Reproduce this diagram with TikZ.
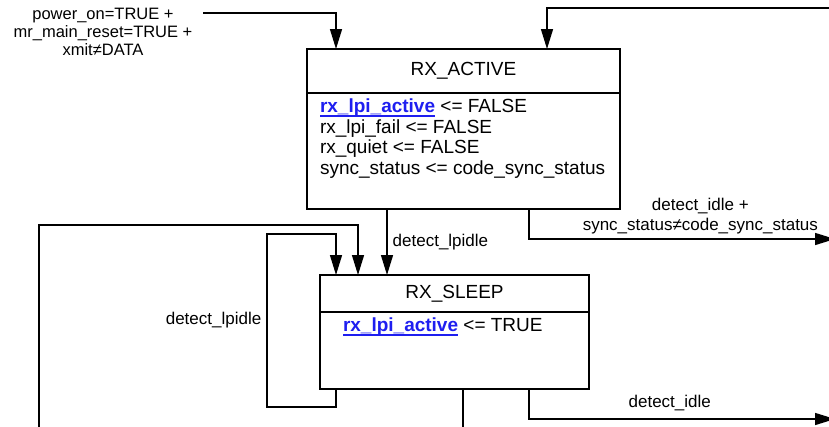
\documentclass[tikz,border=0pt]{standalone}
\usepackage{fontspec}
\setmainfont{Liberation Sans}
\usepackage{xcolor}
\usetikzlibrary{positioning,arrows.meta}

\definecolor{linkblue}{RGB}{30,30,240}
\newlength{\linkwd}
\newcommand{\lpilink}{\leavevmode{\color{linkblue}\bfseries
	\settowidth{\linkwd}{rx\_lpi\_active}%
	\rlap{\rule[-4.1pt]{\linkwd}{1.5pt}}rx\_lpi\_active}}

\begin{document}
\begin{tikzpicture}[x=1pt,y=-1pt,
		font=\fontsize{17}{20.5}\selectfont,
		wire/.style={draw,line width=1.4pt},
		trans/.style={wire,-{Triangle[length=20pt,width=12pt]}},
		hdr/.style={draw,line width=1.4pt,inner sep=0pt,outer sep=0pt,font=\fontsize{19}{20.5}\selectfont},
		bdy/.style={draw,line width=1.4pt,inner ysep=6pt,outer sep=0pt,font=\fontsize{19}{20.5}\selectfont}]
	\useasboundingbox (0,0) rectangle (829,426);

	% RX_ACTIVE
	\node[hdr,minimum width=313pt,minimum height=44pt] (acthead) at (463.5,71) {RX\_ACTIVE};
	\node[bdy,below=0pt of acthead,inner xsep=13pt] (actbody)
	{
		\begin{minipage}[c][104pt][t]{287pt}
			\raggedright
			\lpilink{} <= FALSE\\
			rx\_lpi\_fail <= FALSE\\
			rx\_quiet <= FALSE\\
			sync\_status <= code\_sync\_status
		\end{minipage}
	};

	% RX_SLEEP
	\node[hdr,minimum width=269pt,minimum height=37pt] (sleephead) at (454.5,293.5) {RX\_SLEEP};
	\node[bdy,below=0pt of sleephead,inner xsep=23pt] (sleepbody)
	{
		\begin{minipage}[c][65pt][t]{223pt}
			\raggedright
			\lpilink{} <= TRUE
		\end{minipage}
	};

	% entry condition
	\node[align=center,inner sep=0pt,font=\fontsize{16.5}{18}\selectfont] (pwrlabel) at (103,32)
	{power\_on=TRUE +\\mr\_main\_reset=TRUE +\\xmit≠DATA};
	\coordinate (pwr) at (203,13);
	\coordinate (toploop) at (829,8);
	\coordinate (exitA) at (835,239);
	\coordinate (exitS) at (835,419);
	\coordinate (outerin) at (39,430);
	\coordinate (sleepout) at (463,430);

	\draw[trans] (pwr) -| ([xshift=29pt]acthead.north west);
	\draw[trans] (toploop) -| ([xshift=240pt]acthead.north west);

	\draw[trans] ([xshift=80pt]actbody.south west) -- ([xshift=67pt]sleephead.north west)
		node[midway,right,inner sep=5pt] {detect\_lpidle};
	\draw[trans] ([xshift=222pt]actbody.south west) |- (exitA)
		node[pos=0.78,above,align=center,inner sep=4pt] {detect\_idle +\\sync\_status≠code\_sync\_status};

	\draw[trans] ([xshift=16pt]sleepbody.south west) -- ++(0,18) -- ++(-69,0)
		-- ++(0,-173) node[midway,left,inner sep=5pt] {detect\_lpidle}
		-| ([xshift=16pt]sleephead.north west);
	\draw[trans] (outerin) -- ++(0,-205) -| ([xshift=38pt]sleephead.north west);

	\draw[wire] ([xshift=143pt]sleepbody.south west) -- (sleepout);
	\draw[trans] ([xshift=209pt]sleepbody.south west) |- (exitS)
		node[pos=0.73,above,inner sep=7pt] {detect\_idle};
\end{tikzpicture}
\end{document}
